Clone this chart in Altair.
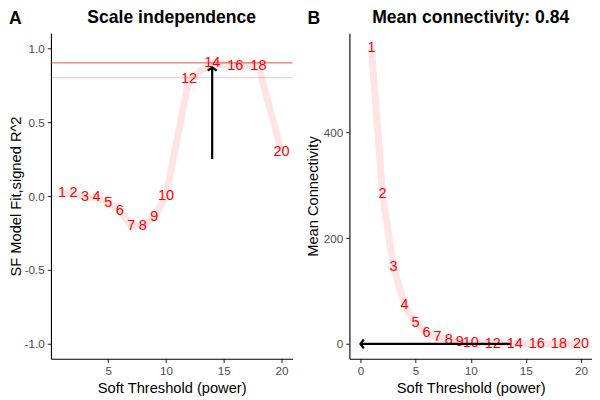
import altair as alt
import pandas as pd

powers = [1, 2, 3, 4, 5, 6, 7, 8, 9, 10, 12, 14, 16, 18, 20]
sft_r2 = [0.02, 0.02, -0.01, -0.01, -0.045, -0.10, -0.20, -0.20, -0.14, 0.0, 0.79, 0.90, 0.88, 0.88, 0.30]
mean_k = [558, 283, 145, 74, 39, 21, 12.5, 7.5, 3, 1.5, 0.8, 0.4, 0.2, 0.1, 0.05]
r2_cuts = [0.9, 0.8]
r2_cut_opacity = [0.7, 0.25]
arrow_a = {"power": [14], "r2": [0.25], "power_end": [14], "r2_end": [0.87]}
arrow_b = {"power": [13.6], "k": [0], "power_end": [0], "k_end": [0]}

FONT = "Liberation Sans"
PINK = "#FFE4E4"
H = 326

df = pd.DataFrame({"power": powers, "r2": sft_r2, "k": mean_k,
                   "lab": [str(p) for p in powers]})


def heading(tag, title, width):
    tag_layer = alt.Chart(pd.DataFrame({"t": [tag]})).mark_text(
        fontSize=17.6, fontWeight="bold", font=FONT, align="left", baseline="middle",
        color="black").encode(text="t:N", x=alt.value(-42), y=alt.value(-14))
    title_layer = alt.Chart(pd.DataFrame({"t": [title]})).mark_text(
        fontSize=17.6, fontWeight="bold", font=FONT, align="center", baseline="middle",
        color="black").encode(text="t:N", x=alt.value(width / 2), y=alt.value(-15.5))
    return [tag_layer, title_layer]


# ---------- Panel A ----------
WA = 242
xA = alt.X("power:Q", title="Soft Threshold (power)",
           scale=alt.Scale(domain=[0.05, 20.95], nice=False, zero=False),
           axis=alt.Axis(values=[5, 10, 15, 20]))
yA = alt.Y("r2:Q", title="SF Model Fit,signed R^2",
           scale=alt.Scale(domain=[-1.1, 1.1], nice=False, zero=False),
           axis=alt.Axis(values=[-1, -0.5, 0, 0.5, 1], titlePadding=1,
                         labelExpr="replace(format(datum.value, '.1f'), '\u2212', '-')"))

lineA = alt.Chart(df).mark_line(color=PINK, strokeWidth=7, strokeJoin="round").encode(
    x=xA, y=yA, order="power:Q")
hl_df = pd.DataFrame({"r2": r2_cuts, "op": r2_cut_opacity})
hlA = alt.Chart(hl_df).mark_rule(color="red", strokeWidth=1).encode(
    y=alt.Y("r2:Q", title="SF Model Fit,signed R^2"),
    opacity=alt.Opacity("op:Q", scale=None, legend=None))
txtA = alt.Chart(df).mark_text(color="red", fontSize=14.5, font=FONT).encode(
    x=xA, y=yA, text="lab:N")
arrA_df = pd.DataFrame(arrow_a)
arrA = alt.Chart(arrA_df).mark_rule(color="black", strokeWidth=2.2).encode(
    x=alt.X("power:Q", title="Soft Threshold (power)"),
    y=alt.Y("r2:Q", title="SF Model Fit,signed R^2"),
    x2="power_end:Q", y2="r2_end:Q")
headA = alt.Chart(arrA_df).mark_point(shape="M-1,0.75L0,0L1,0.75", filled=False,
                                      stroke="black", strokeWidth=2.2, size=80, opacity=1).encode(
    x=alt.X("power_end:Q", title="Soft Threshold (power)"),
    y=alt.Y("r2_end:Q", title="SF Model Fit,signed R^2"))

panelA = alt.layer(lineA, hlA, txtA, arrA, headA,
                   *heading("A", "Scale independence", WA)).properties(width=WA, height=H)

# ---------- Panel B ----------
WB = 243
xB = alt.X("power:Q", title="Soft Threshold (power)",
           scale=alt.Scale(domain=[-1, 21], nice=False, zero=False),
           axis=alt.Axis(values=[0, 5, 10, 15, 20]))
yB = alt.Y("k:Q", title="Mean Connectivity",
           scale=alt.Scale(domain=[-27.9, 586.6], nice=False, zero=False),
           axis=alt.Axis(values=[0, 200, 400]))

lineB = alt.Chart(df).mark_line(color=PINK, strokeWidth=7, strokeJoin="round").encode(
    x=xB, y=yB, order="power:Q")
txtB = alt.Chart(df).mark_text(color="red", fontSize=14.5, font=FONT).encode(
    x=xB, y=yB, text="lab:N")
arrB_df = pd.DataFrame(arrow_b)
arrB = alt.Chart(arrB_df).mark_rule(color="black", strokeWidth=2.2).encode(
    x=alt.X("power:Q", title="Soft Threshold (power)"),
    y=alt.Y("k:Q", title="Mean Connectivity"),
    x2="power_end:Q", y2="k_end:Q")
headB = alt.Chart(arrB_df).mark_point(shape="M0.75,-1L0,0L0.75,1", filled=False,
                                      stroke="black", strokeWidth=2.2, size=80, opacity=1).encode(
    x=alt.X("power_end:Q", title="Soft Threshold (power)"),
    y=alt.Y("k_end:Q", title="Mean Connectivity"))

panelB = alt.layer(lineB, txtB, arrB, headB,
                   *heading("B", "Mean connectivity: 0.84", WB)).properties(width=WB, height=H)

chart = alt.hconcat(panelA, panelB, spacing=57, bounds="flush").properties(
    padding={"left": 0, "top": 0, "right": 0, "bottom": 0}
).configure_view(stroke=None).configure_axis(
    grid=False, domainColor="black", domainWidth=1.1, tickColor="#333333", tickWidth=1.1,
    tickSize=3.7, labelPadding=3, labelColor="#4D4D4D", labelFontSize=11.7, labelFont=FONT,
    titleFont=FONT, titleFontSize=14.7, titleFontWeight="normal", titleColor="black", titlePadding=3
)

chart.save("out.html", embed_options={"renderer": "svg", "actions": False})
